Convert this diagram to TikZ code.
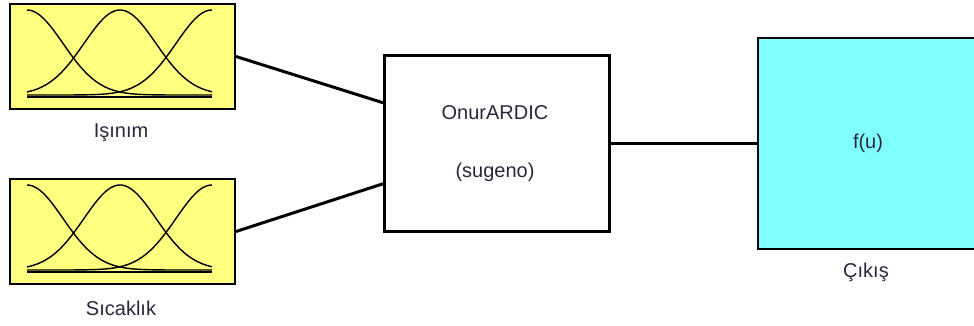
\documentclass[tikz,border=0pt]{standalone}
\usepackage{fontspec}
\setmainfont{Liberation Sans}
\usetikzlibrary{calc}
\definecolor{fisyellow}{RGB}{255,255,128}
\definecolor{fiscyan}{RGB}{128,255,255}
\definecolor{fistext}{RGB}{40,40,60}
\begin{document}
\begin{tikzpicture}[x=1pt,y=-1pt,
  inbox/.style={draw=black,line width=2pt,fill=fisyellow,minimum width=225pt,minimum height=105pt,anchor=north west,inner sep=0pt},
  rulebox/.style={draw=black,line width=2.5pt,fill=white,minimum width=225pt,minimum height=176pt,anchor=north west,inner sep=0pt},
  outbox/.style={draw=black,line width=2pt,fill=fiscyan,minimum width=222pt,minimum height=211pt,anchor=north west,inner sep=0pt},
  lbl/.style={text=fistext,font=\fontsize{20}{24}\selectfont,inner sep=0pt},
  wire/.style={line width=3pt,black},
  mf/.style={line width=1.4pt,black}]
\useasboundingbox (0,0) rectangle (974,325);
\clip (0,0) rectangle (974,325);
\node[inbox] (in1) at (9,3) {};
\node[inbox] (in2) at (9,178) {};
\node[rulebox] (rule) at (383,54) {};
\node[outbox] (out) at (757,37) {};
\foreach \oy in {0,175}{
  \draw[mf] (27,97+\oy) -- (212,97+\oy);
  \foreach \c in {27,120,212}{
    \draw[mf] plot[domain=27:212,samples=80] (\x,{95+\oy-85*exp(-((\x-\c)/36)^2/2)});
  }
}
\node[lbl] (l1) at (121,133) {Işınım};
\node[lbl] (l2) at (121,308) {Sıcaklık};
\node[lbl] (t1) at (495,113) {OnurARDIC};
\node[lbl] (t2) at (495,172) {(sugeno)};
\node[lbl] (t3) at (868,143) {f(u)};
\node[lbl] (l3) at (866,272) {Çıkış};
\coordinate (rin1) at ($(rule.north west)!0.273!(rule.south west)$);
\coordinate (rin2) at ($(rule.north west)!0.727!(rule.south west)$);
\draw[wire] (in1.east) -- (rin1);
\draw[wire] (in2.east) -- (rin2);
\draw[wire] (rule.east) -- (out.west |- rule.east);
\end{tikzpicture}
\end{document}
